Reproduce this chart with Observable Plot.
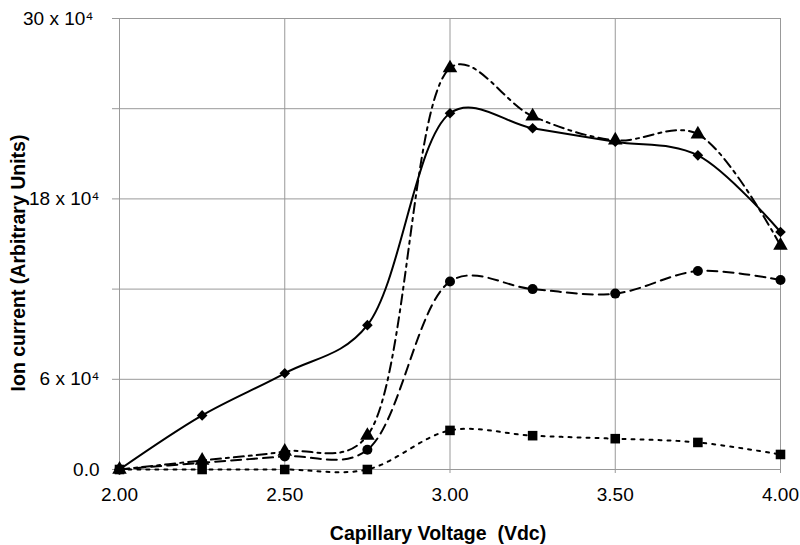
<!DOCTYPE html>
<html>
<head>
<meta charset="utf-8">
<script src="https://cdn.jsdelivr.net/npm/d3@7"></script>
<script src="https://cdn.jsdelivr.net/npm/@observablehq/plot@0.6"></script>
<style>
  html, body { margin: 0; padding: 0; background: #fff; }
  #chart svg { display: block; }
</style>
</head>
<body>
<div id="chart"></div>
<script>
const voltages = [2.00, 2.25, 2.50, 2.75, 3.00, 3.25, 3.50, 3.75, 4.00];
const diamondSeries  = [0, 3.6, 6.4, 9.6, 23.7, 22.7, 21.8, 20.9, 15.8];
const triangleSeries = [0, 0.6, 1.2, 2.26, 26.7, 23.5, 21.9, 22.3, 14.9];
const circleSeries   = [0, 0.45, 0.87, 1.31, 12.5, 12.0, 11.7, 13.2, 12.6];
const squareSeries   = [0, 0, 0, 0, 2.6, 2.25, 2.05, 1.8, 1.0];

const xTicks = [2.00, 2.50, 3.00, 3.50, 4.00];
const xTickLabels = ["2.00", "2.50", "3.00", "3.50", "4.00"];
const yTicks = [0, 6, 12, 18, 24, 30];
const yTickLabels = ["0.0", "6 x 10\u2074", "", "18 x 10\u2074", "", "30 x 10\u2074"];

const series = [
  {name: "square", values: squareSeries, symbol: "square", r: 5.4, dash: "3,6"},
  {name: "circle", values: circleSeries, symbol: "circle", r: 5, dash: "10,6"},
  {name: "triangle", values: triangleSeries, symbol: "triangle", r: 5.4, dash: "10,5,3,5"},
  {name: "diamond", values: diamondSeries, symbol: "diamond2", r: 4.8, dash: null}
];

const rows = series.map(s => voltages.map((v, i) => ({x: v, y: s.values[i], name: s.name})));
const yLabelRows = yTicks.map((v, i) => ({v, label: yTickLabels[i]}));

const lineMarks = series.map((s, k) => Plot.line(rows[k], {
  x: "x", y: "y", curve: d3.curveCatmullRom.alpha(0.35), stroke: "#000", strokeWidth: 2,
  strokeDasharray: s.dash || undefined
}));
const dotMarks = series.map((s, k) => Plot.dot(rows[k], {
  x: "x", y: "y", symbol: () => s.symbol, r: s.r, fill: "#000", stroke: "none"
}));

const font = "'Liberation Sans', Arial, sans-serif";

const chart = Plot.plot({
  width: 800,
  height: 545,
  marginLeft: 119,
  marginRight: 20,
  marginTop: 18,
  marginBottom: 76,
  style: {fontFamily: font, fontSize: "19px", color: "#000", background: "#fff"},
  symbol: {type: "identity"},
  x: {domain: [2, 4]},
  y: {domain: [0, 30]},
  marks: [
    Plot.gridX(xTicks, {stroke: "#999", strokeOpacity: 1, strokeWidth: 1}),
    Plot.gridY(yTicks, {stroke: "#999", strokeOpacity: 1, strokeWidth: 1}),
    Plot.axisX(xTicks, {tickSize: 4, stroke: "#999", tickFormat: () => "", label: null}),
    Plot.axisY(yTicks, {tickSize: 7, stroke: "#999", tickFormat: () => "", label: null}),
    Plot.text(xTicks, {x: d => d, frameAnchor: "bottom", lineAnchor: "top", dy: 18,
      text: (d, i) => xTickLabels[i], fontSize: 19, fontFamily: font, fill: "#000"}),
    Plot.text(yLabelRows.filter(d => d.v !== 30), {y: "v", frameAnchor: "left", textAnchor: "end", dx: -20,
      text: "label", fontSize: 19, fontFamily: font, fill: "#000"}),
    Plot.text(yLabelRows.filter(d => d.v === 30), {y: "v", frameAnchor: "left", textAnchor: "end", dx: -26,
      text: "label", fontSize: 19, fontFamily: font, fill: "#000"}),
    ...lineMarks,
    ...dotMarks,
    Plot.text(["Capillary Voltage  (Vdc)"], {frameAnchor: "bottom", dx: -12, dy: 70, text: d => d, fontWeight: "bold", fontSize: 19.5, fontFamily: font, fill: "#000"}),
    Plot.text(["Ion current (Arbitrary Units)"], {frameAnchor: "left", textAnchor: "middle", dx: -101, dy: 19, rotate: -90, text: d => d, fontWeight: "bold", fontSize: 19.5, fontFamily: font, fill: "#000"})
  ]
});
document.getElementById("chart").appendChild(chart);
</script>
</body>
</html>
